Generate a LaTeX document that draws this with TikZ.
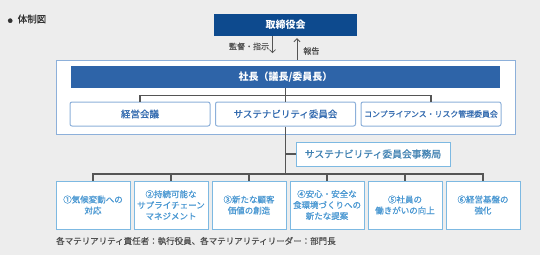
\documentclass[tikz,border=0pt]{standalone}
\usepackage{fontspec}
\setmainfont{Noto Sans CJK JP}
\newfontfamily\jpmid{Noto Sans CJK JP}[FakeBold=0.8]
\usepackage{tikz}
\usetikzlibrary{arrows.meta,positioning}
\definecolor{bgray}{HTML}{EDEDED}
\definecolor{navy}{HTML}{0D4A8E}
\definecolor{midblue}{HTML}{2E64A8}
\definecolor{frameblue}{HTML}{8DB0DA}
\definecolor{textblue}{HTML}{356CB0}
\definecolor{skyline}{HTML}{7DB9E2}
\definecolor{skytext}{HTML}{4A98D2}
\definecolor{linegray}{HTML}{555555}
\definecolor{notegray}{HTML}{505050}

\begin{document}
\begin{tikzpicture}[
 x=1pt,y=1pt,
 bar/.style={fill=#1,text=white,inner sep=0pt,font=\bfseries\fontsize{10}{12}\selectfont},
 frame/.style={draw=frameblue,fill=white,line width=1pt,inner sep=0pt},
 unit/.style={draw=frameblue,fill=white,line width=1pt,rounded corners=2pt,minimum width=140pt,minimum height=24pt,inner sep=0pt,text=textblue,font=\jpmid\fontsize{9.5}{11}\selectfont},
 theme/.style={draw=skyline,fill=white,line width=1pt,minimum width=74pt,minimum height=48pt,inner sep=0pt,text width=74pt,align=center,text=skytext,font=\jpmid\fontsize{8.5}{11}\selectfont},
 wire/.style={draw=linegray,line width=1.1pt},
 arr/.style={-{Straight Barb[length=3pt,width=6pt]},draw=linegray,line width=0.8pt},
 lbl/.style={text=notegray,inner sep=0pt,font=\jpmid\fontsize{8}{10}\selectfont}]
\fill[bgray] (0,0) rectangle (540,-255);
\useasboundingbox (0,0) rectangle (540,-255);
\node[anchor=west,inner sep=0pt,text=black!80,font=\jpmid\fontsize{9.5}{11}\selectfont] (title) at (7.5,-19) {{\fontsize{5}{6}\selectfont●}\hspace{5pt}体制図};
\node[bar=navy,minimum width=143pt,minimum height=22pt] (board) at (285.5,-25) {取締役会};
\node[frame,minimum width=459pt,minimum height=74pt] (outer) at (285.5,-97) {};
\node[bar=midblue,minimum width=429pt,minimum height=22pt] (pres) at (285.5,-77) {社長（議長/委員長）};
\node[unit] (sust) at (285.5,-114) {サステナビリティ委員会};
\node[unit,left=4.5pt of sust] (mgmt) {経営会議};
\node[unit,right=4.5pt of sust,font=\jpmid\fontsize{7.9}{10}\selectfont] (comp) {コンプライアンス・リスク管理委員会};
\node[unit,draw=skyline,rounded corners=0pt,minimum width=154pt,text=skytext!85!black,font=\jpmid\fontsize{9.8}{11}\selectfont] (office) at (373,-154) {サステナビリティ委員会事務局};
\node[theme] (m1) at (93,-205) {①気候変動への\\対応};
\node[theme,right=3pt of m1] (m2) {②持続可能な\\サプライチェーン\\マネジメント};
\node[theme,right=3pt of m2] (m3) {③新たな顧客\\価値の創造};
\node[theme,right=3pt of m3] (m4) {④安心・安全な\\食環境づくりへの\\新たな提案};
\node[theme,right=3pt of m4] (m5) {⑤社員の\\働きがいの向上};
\node[theme,right=3pt of m5] (m6) {⑥経営基盤の\\強化};
\coordinate (bus) at (0,-174);
\node[anchor=west,inner sep=0pt,text=notegray,font=\jpmid\fontsize{8.5}{10}\selectfont] (note) at (56,-241) {各マテリアリティ責任者：執行役員、各マテリアリティリーダー：部門長};
% board <-> president
\draw[arr] ([xshift=-13pt]board.south) -- ++(0,-17) node[lbl,anchor=east,pos=0.6,xshift=-3pt] (order) {監督・指示};
\draw[arr] ([xshift=11.5pt]outer.north) -- ([xshift=11.5pt,yshift=-2pt]board.south) node[lbl,anchor=west,pos=0.4,xshift=6pt] (report) {報告};
% committees
\draw[wire] (pres) -- (sust);
\draw[wire] (mgmt.north) -- ++(0,6) -| (comp.north);
\draw[wire] (sust.south) -- (sust.south |- bus);
\draw[wire] (office.west) -- (office.west -| sust.south);
% materiality themes
\draw[wire] (m1.north) -- (m1.north |- bus) -| (m6.north);
\foreach \m in {m2,m3,m4,m5}
  \draw[wire] (\m.north) -- (\m.north |- bus);
\end{tikzpicture}
\end{document}
